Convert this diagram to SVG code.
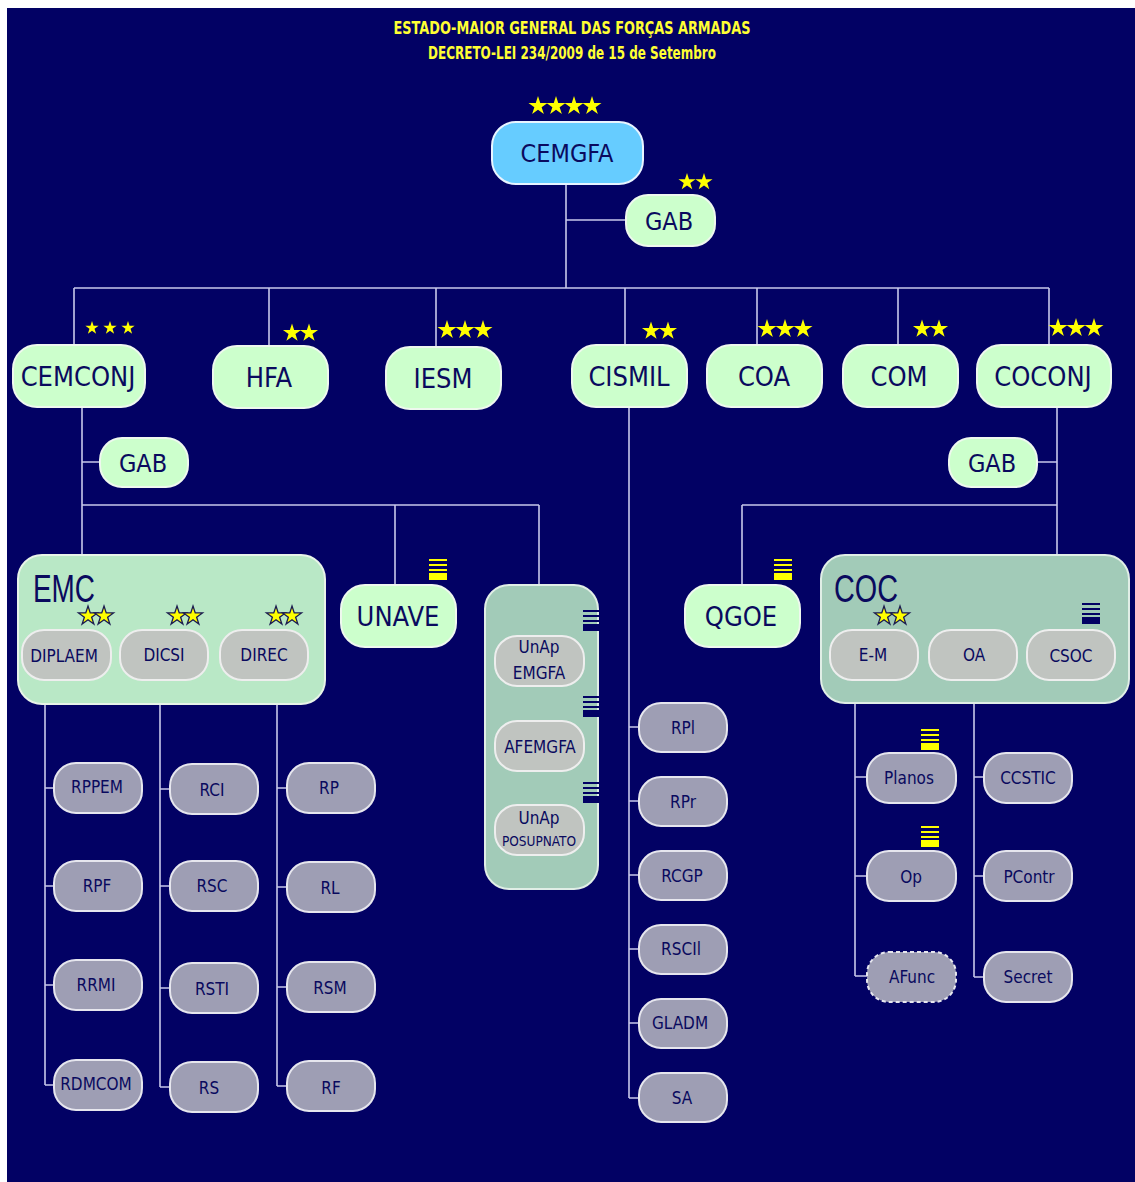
<svg xmlns="http://www.w3.org/2000/svg" xmlns:xlink="http://www.w3.org/1999/xlink" width="1135" height="1182" viewBox="0 0 1135 1182">
<defs>
<path id="star" d="M0,-10 L2.245,-3.09 L9.51,-3.09 L3.63,1.18 L5.88,8.09 L0,3.82 L-5.88,8.09 L-3.63,1.18 L-9.51,-3.09 L-2.245,-3.09 Z"/>
<g id="bars"><rect x="0" y="0" width="18" height="2"/><rect x="0" y="5" width="18" height="2"/><rect x="0" y="10" width="18" height="2"/><rect x="0" y="14" width="18" height="7"/></g>
</defs>
<style>
.bg{fill:#020164}
.ln{stroke:#c8c8ea;stroke-width:1.6;fill:none}
.top{fill:#66ccff;stroke:#e8f4ff;stroke-width:2}
.lg{fill:#ccffcc;stroke:#eef8ee;stroke-width:2}
.cont{fill:#b9e8c6;stroke:#e8f4e8;stroke-width:2}
.cont2{fill:#a2cbb8;stroke:#e0eee6;stroke-width:2}
.gr{fill:#c0c4c0;stroke:#eeeeee;stroke-width:2}
.leaf{fill:#9e9eb4;stroke:#e6e6ee;stroke-width:2}
.dash{stroke-dasharray:4 3}
text{font-family:"DejaVu Sans Condensed","DejaVu Sans",sans-serif;fill:#0a0a5e;text-anchor:middle;dominant-baseline:central}
.t1{font-size:25px}
.t2{font-size:27px}
.t3{font-size:17px}
.tb{font-family:"Liberation Sans",Arial,sans-serif;font-size:38px;text-anchor:start}
.title{font-family:"Liberation Sans Narrow","DejaVu Sans Condensed",sans-serif;font-weight:bold;fill:#ffff33;font-size:18px}
.ys{fill:#ffff00}
.os{fill:#ffff00;stroke:#1a1a50;stroke-width:1.3}
.yb{fill:#ffff00}
.nb{fill:#020164}
</style>
<rect width="1135" height="1182" fill="#ffffff"/>
<rect class="bg" x="7" y="8" width="1128" height="1174"/>

<g id="title">
<text class="title" x="572" y="27" textLength="357" lengthAdjust="spacingAndGlyphs">ESTADO-MAIOR GENERAL DAS FORÇAS ARMADAS</text>
<text class="title" x="572" y="52" textLength="288" lengthAdjust="spacingAndGlyphs">DECRETO-LEI 234/2009 de 15 de Setembro</text>
</g>

<g id="connectors">
<path class="ln" d="M566,184 V288 M566,220 H626 M74,288 H1049 M74,288 V345 M269,288 V346 M436,288 V347 M625,288 V345 M757,288 V345 M898,288 V345 M1049,288 V345"/>
<path class="ln" d="M82,407 V555 M82,462 H100 M82,505 H539 M395,505 V585 M539,505 V585"/>
<path class="ln" d="M1057,407 V555 M1037,462 H1057 M742,505 H1057 M742,505 V585"/>
<path class="ln" d="M629,407 V1098 M629,727 H639 M629,801 H639 M629,875 H639 M629,949 H639 M629,1023 H639 M629,1098 H639"/>
<path class="ln" d="M45,680 V1085 M45,788 H54 M45,886 H54 M45,985 H54 M45,1085 H54"/>
<path class="ln" d="M160,680 V1087 M160,789 H170 M160,886 H170 M160,988 H170 M160,1087 H170"/>
<path class="ln" d="M277,680 V1086 M277,788 H287 M277,887 H287 M277,987 H287 M277,1086 H287"/>
<path class="ln" d="M855,680 V976 M855,777 H867 M855,876 H867 M855,976 H867"/>
<path class="ln" d="M974,680 V977 M974,777 H984 M974,876 H984 M974,977 H984"/>
</g>

<g id="n-cemgfa"><rect class="top" x="492" y="122" width="151" height="62" rx="24"/><text class="t1" x="567" y="153">CEMGFA</text>
<use href="#star" class="ys" x="538" y="106"/><use href="#star" class="ys" x="556" y="106"/><use href="#star" class="ys" x="574" y="106"/><use href="#star" class="ys" x="592" y="106"/></g>
<g id="n-gab1"><rect class="lg" x="626" y="195" width="89" height="51" rx="22"/><text class="t1" x="669" y="221">GAB</text>
<g transform="translate(687,182) scale(0.9)"><use href="#star" class="ys"/></g><g transform="translate(704,182) scale(0.9)"><use href="#star" class="ys"/></g></g>

<g id="n-cemconj"><rect class="lg" x="13" y="345" width="132" height="62" rx="24"/><text class="t2" x="78" y="376">CEMCONJ</text>
<g transform="translate(92,328) scale(0.7)"><use href="#star" class="ys"/></g><g transform="translate(110,328) scale(0.7)"><use href="#star" class="ys"/></g><g transform="translate(128,328) scale(0.7)"><use href="#star" class="ys"/></g></g>
<g id="n-hfa"><rect class="lg" x="213" y="346" width="115" height="62" rx="24"/><text class="t2" x="269" y="377">HFA</text>
<g transform="translate(292,333) scale(0.95)"><use href="#star" class="ys"/></g><g transform="translate(309,333) scale(0.95)"><use href="#star" class="ys"/></g></g>
<g id="n-iesm"><rect class="lg" x="386" y="347" width="115" height="62" rx="24"/><text class="t2" x="443" y="378">IESM</text>
<use href="#star" class="ys" x="447" y="330"/><use href="#star" class="ys" x="465" y="330"/><use href="#star" class="ys" x="483" y="330"/></g>
<g id="n-cismil"><rect class="lg" x="572" y="345" width="115" height="62" rx="24"/><text class="t2" x="629" y="376">CISMIL</text>
<g transform="translate(651,331) scale(0.95)"><use href="#star" class="ys"/></g><g transform="translate(668,331) scale(0.95)"><use href="#star" class="ys"/></g></g>
<g id="n-coa"><rect class="lg" x="707" y="345" width="115" height="62" rx="24"/><text class="t2" x="764" y="376">COA</text>
<use href="#star" class="ys" x="767" y="329"/><use href="#star" class="ys" x="785" y="329"/><use href="#star" class="ys" x="803" y="329"/></g>
<g id="n-com"><rect class="lg" x="843" y="345" width="115" height="62" rx="24"/><text class="t2" x="899" y="376">COM</text>
<g transform="translate(922,329) scale(0.95)"><use href="#star" class="ys"/></g><g transform="translate(939,329) scale(0.95)"><use href="#star" class="ys"/></g></g>
<g id="n-coconj"><rect class="lg" x="977" y="345" width="134" height="62" rx="24"/><text class="t2" x="1043" y="376">COCONJ</text>
<use href="#star" class="ys" x="1058" y="328"/><use href="#star" class="ys" x="1076" y="328"/><use href="#star" class="ys" x="1094" y="328"/></g>

<g id="n-gab2"><rect class="lg" x="100" y="438" width="88" height="49" rx="22"/><text class="t1" x="143" y="463">GAB</text></g>
<g id="n-gab3"><rect class="lg" x="949" y="438" width="88" height="49" rx="22"/><text class="t1" x="992" y="463">GAB</text></g>

<g id="n-emc"><rect class="cont" x="18" y="555" width="307" height="149" rx="24"/><text class="tb" x="33" y="589" textLength="62" lengthAdjust="spacingAndGlyphs">EMC</text></g>
<g id="n-diplaem"><rect class="gr" x="22" y="630" width="89" height="50" rx="22"/><text class="t3" x="64" y="656">DIPLAEM</text>
<use href="#star" class="os" x="88" y="616"/><use href="#star" class="os" x="104" y="616"/></g>
<g id="n-dicsi"><rect class="gr" x="120" y="630" width="88" height="50" rx="22"/><text class="t3" x="164" y="655">DICSI</text>
<use href="#star" class="os" x="177" y="616"/><use href="#star" class="os" x="193" y="616"/></g>
<g id="n-direc"><rect class="gr" x="220" y="630" width="88" height="50" rx="22"/><text class="t3" x="264" y="655">DIREC</text>
<use href="#star" class="os" x="276" y="616"/><use href="#star" class="os" x="292" y="616"/></g>

<g id="n-unave"><rect class="lg" x="341" y="585" width="115" height="62" rx="24"/><text class="t2" x="398" y="616">UNAVE</text>
<use href="#bars" class="yb" x="429" y="559"/></g>

<g id="n-unap-group"><rect class="cont2" x="485" y="585" width="113" height="304" rx="24"/>
<use href="#bars" class="nb" x="583" y="610"/><use href="#bars" class="nb" x="583" y="696"/><use href="#bars" class="nb" x="583" y="782"/></g>
<g id="n-unap-emgfa"><rect class="gr" x="495" y="636" width="89" height="50" rx="22"/><text class="t3" x="539" y="647">UnAp</text><text class="t3" x="539" y="673">EMGFA</text></g>
<g id="n-afemgfa"><rect class="gr" x="495" y="721" width="89" height="50" rx="22"/><text class="t3" x="540" y="747">AFEMGFA</text></g>
<g id="n-unap-posupnato"><rect class="gr" x="495" y="805" width="89" height="50" rx="22"/><text class="t3" x="539" y="818">UnAp</text><text x="539" y="841" style="font-size:13.5px">POSUPNATO</text></g>

<g id="n-qgoe"><rect class="lg" x="685" y="585" width="115" height="62" rx="24"/><text class="t2" x="741" y="616">QGOE</text>
<use href="#bars" class="yb" x="774" y="559"/></g>

<g id="n-coc"><rect class="cont2" x="821" y="555" width="308" height="148" rx="24"/><text class="tb" x="834" y="589" textLength="64" lengthAdjust="spacingAndGlyphs">COC</text>
<use href="#bars" class="nb" x="1082" y="603"/></g>
<g id="n-em"><rect class="gr" x="830" y="630" width="88" height="50" rx="22"/><text class="t3" x="873" y="655">E-M</text>
<use href="#star" class="os" x="884" y="616"/><use href="#star" class="os" x="900" y="616"/></g>
<g id="n-oa"><rect class="gr" x="929" y="630" width="88" height="50" rx="22"/><text class="t3" x="974" y="655">OA</text></g>
<g id="n-csoc"><rect class="gr" x="1027" y="630" width="88" height="50" rx="22"/><text class="t3" x="1071" y="656">CSOC</text></g>

<g id="n-rpl"><rect class="leaf" x="639" y="703" width="88" height="49" rx="22"/><text class="t3" x="683" y="728">RPl</text></g>
<g id="n-rpr"><rect class="leaf" x="639" y="777" width="88" height="49" rx="22"/><text class="t3" x="683" y="802">RPr</text></g>
<g id="n-rcgp"><rect class="leaf" x="639" y="851" width="88" height="49" rx="22"/><text class="t3" x="682" y="876">RCGP</text></g>
<g id="n-rscil"><rect class="leaf" x="639" y="925" width="88" height="49" rx="22"/><text class="t3" x="681" y="949">RSCIl</text></g>
<g id="n-gladm"><rect class="leaf" x="639" y="999" width="88" height="49" rx="22"/><text class="t3" x="680" y="1023">GLADM</text></g>
<g id="n-sa"><rect class="leaf" x="639" y="1073" width="88" height="49" rx="22"/><text class="t3" x="682" y="1098">SA</text></g>

<g id="n-rppem"><rect class="leaf" x="54" y="763" width="88" height="50" rx="22"/><text class="t3" x="97" y="787">RPPEM</text></g>
<g id="n-rpf"><rect class="leaf" x="54" y="861" width="88" height="50" rx="22"/><text class="t3" x="97" y="886">RPF</text></g>
<g id="n-rrmi"><rect class="leaf" x="54" y="960" width="88" height="50" rx="22"/><text class="t3" x="96" y="985">RRMI</text></g>
<g id="n-rdmcom"><rect class="leaf" x="54" y="1060" width="88" height="50" rx="22"/><text class="t3" x="96" y="1084">RDMCOM</text></g>

<g id="n-rci"><rect class="leaf" x="170" y="764" width="88" height="50" rx="22"/><text class="t3" x="212" y="790">RCI</text></g>
<g id="n-rsc"><rect class="leaf" x="170" y="861" width="88" height="50" rx="22"/><text class="t3" x="212" y="886">RSC</text></g>
<g id="n-rsti"><rect class="leaf" x="170" y="963" width="88" height="50" rx="22"/><text class="t3" x="212" y="989">RSTI</text></g>
<g id="n-rs"><rect class="leaf" x="170" y="1062" width="88" height="50" rx="22"/><text class="t3" x="209" y="1088">RS</text></g>

<g id="n-rp"><rect class="leaf" x="287" y="763" width="88" height="50" rx="22"/><text class="t3" x="329" y="788">RP</text></g>
<g id="n-rl"><rect class="leaf" x="287" y="862" width="88" height="50" rx="22"/><text class="t3" x="330" y="888">RL</text></g>
<g id="n-rsm"><rect class="leaf" x="287" y="962" width="88" height="50" rx="22"/><text class="t3" x="330" y="988">RSM</text></g>
<g id="n-rf"><rect class="leaf" x="287" y="1061" width="88" height="50" rx="22"/><text class="t3" x="331" y="1088">RF</text></g>

<g id="n-planos"><rect class="leaf" x="867" y="753" width="89" height="50" rx="22"/><text class="t3" x="909" y="778">Planos</text>
<use href="#bars" class="yb" x="921" y="729"/></g>
<g id="n-op"><rect class="leaf" x="867" y="851" width="89" height="50" rx="22"/><text class="t3" x="911" y="877">Op</text>
<use href="#bars" class="yb" x="921" y="826"/></g>
<g id="n-afunc"><rect class="leaf dash" x="867" y="952" width="89" height="50" rx="22"/><text class="t3" x="912" y="977">AFunc</text></g>

<g id="n-ccstic"><rect class="leaf" x="984" y="753" width="88" height="50" rx="22"/><text class="t3" x="1028" y="778">CCSTIC</text></g>
<g id="n-pcontr"><rect class="leaf" x="984" y="851" width="88" height="50" rx="22"/><text class="t3" x="1029" y="877">PContr</text></g>
<g id="n-secret"><rect class="leaf" x="984" y="952" width="88" height="50" rx="22"/><text class="t3" x="1028" y="977">Secret</text></g>
</svg>
